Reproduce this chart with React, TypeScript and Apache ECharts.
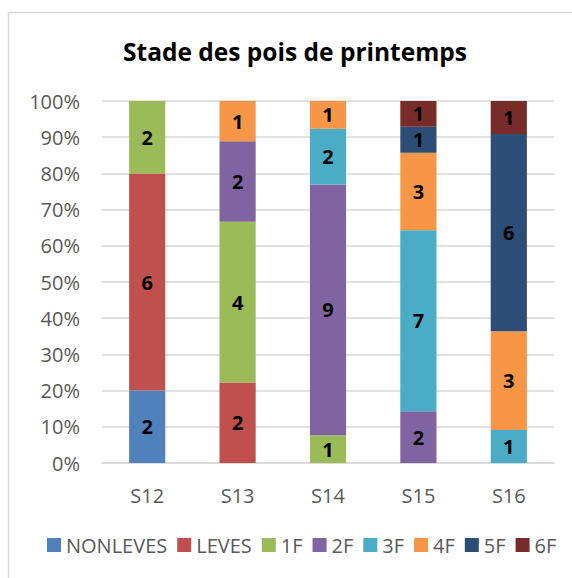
import React, { useEffect, useRef } from "react";
import * as echarts from "echarts";

const categories = ["S12", "S13", "S14", "S15", "S16"];
const seriesNames = ["NONLEVES", "LEVES", "1F", "2F", "3F", "4F", "5F", "6F"];
const colors = ["#4F81BD", "#C0504D", "#9BBB59", "#8064A2", "#4BACC6", "#F79646", "#2C4D75", "#772C2A"];
const NONLEVES = [2, 0, 0, 0, 0];
const LEVES = [6, 2, 0, 0, 0];
const F1 = [2, 4, 1, 0, 0];
const F2 = [0, 2, 9, 2, 0];
const F3 = [0, 0, 2, 7, 1];
const F4 = [0, 1, 1, 3, 3];
const F5 = [0, 0, 0, 1, 6];
const F6 = [0, 0, 0, 1, 1];
const counts = [NONLEVES, LEVES, F1, F2, F3, F4, F5, F6];

export default function App() {
  const ref = useRef<HTMLDivElement>(null);
  useEffect(() => {
    if (!ref.current) return;
    const chart = echarts.init(ref.current, null, { renderer: "svg" });
    const totals = categories.map((_, i) => counts.reduce((s, arr) => s + arr[i], 0));
    const font = "'Open Sans', sans-serif";
    chart.setOption({
      animation: false,
      backgroundColor: "#fff",
      textStyle: { fontFamily: font },
      title: {
        text: "Stade des pois de printemps",
        left: 290,
        top: 34,
        textAlign: "center",
        textStyle: { fontSize: 24.5, fontWeight: "bold", color: "#000", fontFamily: font },
      },
      graphic: [
        {
          type: "rect",
          shape: { x: 8.5, y: 12.5, width: 600, height: 600 },
          style: { fill: "none", stroke: "#d9d9d9", lineWidth: 1.5 },
          silent: true,
        },
      ],
      grid: { left: 102, right: 18, top: 101, bottom: 115 },
      legend: {
        top: 530,
        left: 42,
        itemWidth: 14,
        itemHeight: 14,
        itemGap: 10,
        icon: "rect",
        textStyle: { fontSize: 20, color: "#595959", fontFamily: font },
        data: seriesNames,
      },
      xAxis: {
        type: "category",
        data: categories,
        axisTick: { show: false },
        axisLine: { lineStyle: { color: "#d9d9d9", width: 1.5 } },
        axisLabel: { fontSize: 20, color: "#595959", margin: 22, fontFamily: font },
      },
      yAxis: {
        type: "value",
        min: 0,
        max: 100,
        interval: 10,
        axisLine: { show: false },
        axisTick: { show: false },
        axisLabel: { formatter: "{value}%", fontSize: 20, color: "#595959", margin: 22, fontFamily: font },
        splitLine: { lineStyle: { color: "#d9d9d9", width: 1.5 } },
      },
      series: seriesNames.map((name, si) => ({
        name,
        type: "bar",
        stack: "total",
        barWidth: "40%",
        itemStyle: { color: colors[si] },
        data: counts[si].map((v, i) => (v === 0 ? null : (v / totals[i]) * 100)),
        label: {
          show: true,
          position: "inside",
          fontSize: 20,
          fontWeight: "bold",
          color: "#000",
          fontFamily: font,
          formatter: (p: any) => String(counts[si][p.dataIndex]),
        },
      })),
    });
    return () => chart.dispose();
  }, []);
  return (
    <div
      ref={ref}
      style={{ position: "fixed", left: 0, top: 0, width: 572, height: 578 }}
    />
  );
}
